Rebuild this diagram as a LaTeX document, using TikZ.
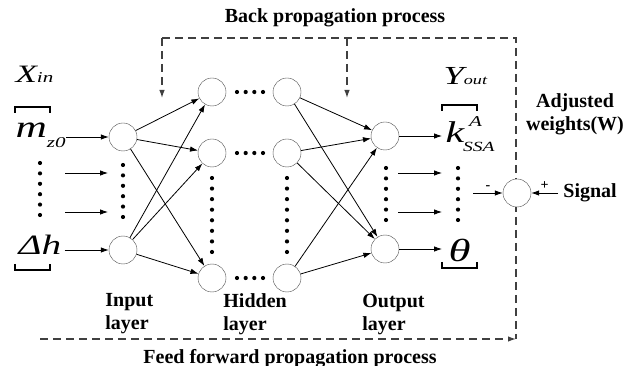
\documentclass[tikz,border=0pt]{standalone}
\usepackage{fontspec}
\setmainfont{Liberation Serif}
\usepackage{tikz}
\usetikzlibrary{arrows.meta}
\tikzset{
	neuron/.style   = {draw, thin, black!70, fill = white, circle, minimum size = 28pt, inner sep = 0pt},
	lbl/.style      = {inner sep = 0pt, font = \fontsize{20}{23}\selectfont\bfseries},
	var/.style      = {inner sep = 0pt, xscale = 1.4, font = \itshape},
	feedline/.style = {draw, black!75, line width = 1.2pt, dash pattern = on 8pt off 5pt},
	dotrow/.style   = {line cap = round, line width = 4.2pt, dash pattern = on 0pt off #1},
	bracket/.style  = {line width = 2pt}
}
\newcommand{\fs}[1]{\fontsize{#1}{#1}\selectfont}

\begin{document}
\begin{tikzpicture}[x = 1pt, y = -1pt, thick, >={Latex[length=8pt, width=5.5pt]}]
	\useasboundingbox (0,0) rectangle (643,366);
	% free ends of the connectors
	\coordinate (a1) at (65,173);  \coordinate (b1) at (108,173);
	\coordinate (a2) at (65,212);  \coordinate (b2) at (108,212);
	\coordinate (c1) at (398,173); \coordinate (d1) at (442,173);
	\coordinate (c2) at (398,212); \coordinate (d2) at (442,212);
	\coordinate (k0) at (442,136); \coordinate (t0) at (442,249);
	\coordinate (e0) at (473,193);
	\coordinate (bpl) at (162,38); \coordinate (bpm) at (347,38); \coordinate (bpr) at (516,38);
	\coordinate (bpl2) at (162,98); \coordinate (bpm2) at (347,98);
	\coordinate (ffl) at (40,339); \coordinate (ffr) at (516,339);
	
	% dashed feedback loop
	\draw[feedline, ->] (bpl) -- (bpl2);
	\draw[feedline] (bpl) -- (bpr) -- (ffr);
	\draw[feedline, ->] (bpm) -- (bpm2);
	\draw[feedline, ->] (ffl) -- (ffr);
	
	% neurons of the four columns
	\draw
	node at (123,137)[neuron] (i1) {}
	node at (123,250)[neuron] (i2) {}
	node at (212,92) [neuron] (h11) {}
	node at (212,153)[neuron] (h12) {}
	node at (212,278)[neuron] (h13) {}
	node at (287,92) [neuron] (h21) {}
	node at (287,153)[neuron] (h22) {}
	node at (287,278)[neuron] (h23) {}
	node at (385,136)[neuron] (o1) {}
	node at (385,249)[neuron] (o2) {}
	;
	
	% input and output variables
	\draw
	node at (15,83) [var, anchor = base west] (xin) {\fs{25}X\fs{15}in}
	node at (15,138)[var, anchor = base west] (mz) {\fs{31}m\raisebox{-10pt}{\fs{15}z0}}
	node at (18,255)[var, anchor = base west] (dh) {\fs{28}Δh}
	node at (443,85)[var, anchor = base west] (yout) {\fs{26}Y\fs{13}out}
	node at (445,143)[var, anchor = base west] (kssa) {\fs{30}k\rlap{\kern3.5pt\raisebox{16pt}{\fs{15}A}}\kern-0.8pt\raisebox{-9pt}{\fs{14}SSA}}
	node at (448,262)[var, anchor = base west] (th) {\fs{32}θ}
	;
	
	% comparator and its labels
	\draw
	node at (517,193)[neuron] (cmp) {}
	node at (563,193)[lbl, anchor = west] (sig) {Signal}
	node at (575,93.5)[lbl, anchor = north, align = center] (adj) {Adjusted\\weights(W)}
	node at (335,23)[lbl, anchor = base] (bp) {Back propagation process}
	node at (290,363)[lbl, anchor = base] (ff) {Feed forward propagation process}
	node at (105,293.5)[lbl, anchor = north west, align = left] (inl) {Input\\layer}
	node at (223,293.5)[lbl, anchor = north west, align = left] (hil) {Hidden\\layer}
	node at (362,293.5)[lbl, anchor = north west, align = left] (oul) {Output\\layer}
	;
	
	% inputs
	\draw[->] (i1 -| mz.east) -- (i1);
	\draw[->] (a1) -- (b1);
	\draw[->] (a2) -- (b2);
	\draw[->] (i2 -| dh.east) ++(3,0) -- (i2);
	
	% input layer to hidden layer
	\draw[->] (i1) -- (h11);
	\draw[->] (i1) -- (h12);
	\draw[->] (i1) -- (h13);
	\draw[->] (i2) -- (h11);
	\draw[->] (i2) -- (h12);
	\draw[->] (i2) -- (h13);
	
	% hidden layer to output layer
	\draw[->] (h21) -- (o1);
	\draw[->] (h21) -- (o2);
	\draw[->] (h22) -- (o1);
	\draw[->] (h22) -- (o2);
	\draw[->] (h23) -- (o1);
	\draw[->] (h23) -- (o2);
	
	% outputs and error
	\draw[->] (o1) -- (k0);
	\draw[->] (o2) -- (t0);
	\draw[->] (c1) -- (d1);
	\draw[->] (c2) -- (d2);
	\draw[->] (e0) -- node[lbl, above = 3pt, font = \fontsize{14}{14}\selectfont\bfseries] {-} (cmp);
	\draw[->] ([xshift=-5pt]sig.west) -- node[lbl, above = 3pt, font = \fontsize{14}{14}\selectfont\bfseries] {+} (cmp);
	
	% dots
	\draw[dotrow = 10.4pt] (40,163) -- (40,216);
	\draw[dotrow = 10.4pt] (123,165) -- (123,218);
	\draw[dotrow = 10.57pt] (212,178) -- (212,253);
	\draw[dotrow = 10.57pt] (287,178) -- (287,253);
	\draw[dotrow = 10.4pt] (386,168) -- (386,221);
	\draw[dotrow = 10.4pt] (458,168) -- (458,221);
	\draw[dotrow = 8.67pt] (237,92) -- (264,92);
	\draw[dotrow = 8.67pt] (237,153) -- (264,153);
	\draw[dotrow = 8.67pt] (237,278) -- (264,278);
	
	% brackets
	\draw[bracket] (15,113) -- (15,107) -- (50,107) -- (50,113);
	\draw[bracket] (15,264) -- (15,270) -- (50,270) -- (50,264);
	\draw[bracket] (442,111) -- (442,105) -- (477,105) -- (477,111);
	\draw[bracket] (442,262) -- (442,268) -- (477,268) -- (477,262);
\end{tikzpicture}
\end{document}
